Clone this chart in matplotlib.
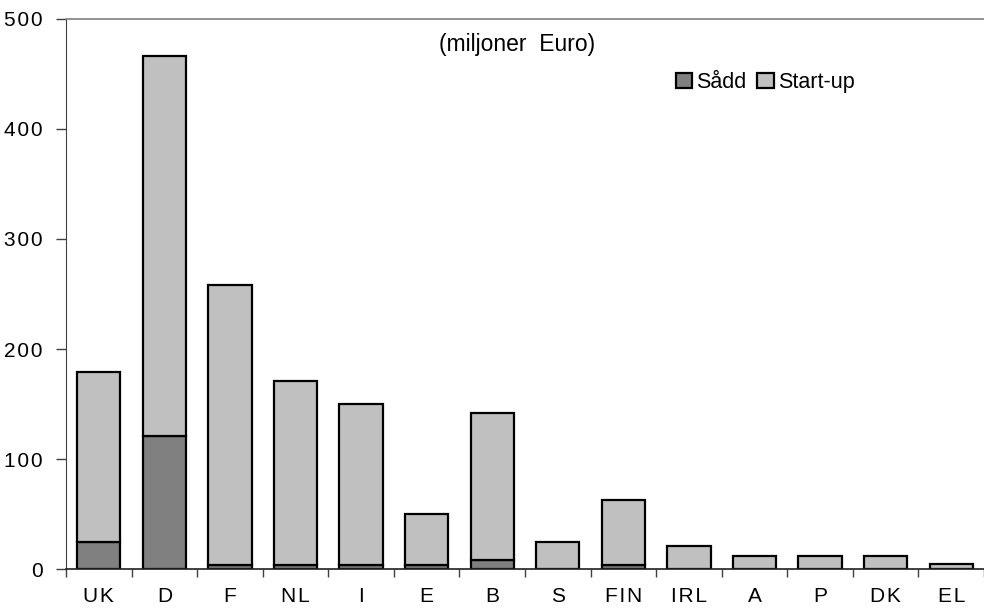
import matplotlib.pyplot as plt
import numpy as np

# Riskkapital per land, miljoner Euro
countries = ['UK', 'D', 'F', 'NL', 'I', 'E', 'B', 'S', 'FIN', 'IRL', 'A', 'P', 'DK', 'EL']
sadd = [25, 121, 4, 4, 4, 4, 8.5, 0, 4, 0, 0, 0, 0, 0]
total = [179, 466, 258, 171, 150, 50, 142, 25, 62.5, 21, 12.5, 12.5, 12.5, 4.5]
startup = [t - s for t, s in zip(total, sadd)]

plt.rcParams['font.family'] = ['Liberation Sans', 'DejaVu Sans']

def spaced(s):
    return '\u200a'.join(s)

fig = plt.figure(figsize=(9.84, 6.16), dpi=100)
ax = fig.add_axes([0.0671, 0.0758, 0.9329, 0.894])

x = np.arange(len(countries))
w = 0.66
ax.bar(x, sadd, w, color='#808080', edgecolor='black', linewidth=1.6, label='Sådd')
ax.bar(x, startup, w, bottom=sadd, color='#c0c0c0', edgecolor='black', linewidth=1.6,
       label='Start-up')

ax.set_xlim(-0.5, len(countries) - 0.5)
ax.set_ylim(0, 500)
ax.set_yticks(range(0, 501, 100))
ax.set_yticklabels([spaced(str(v)) for v in range(0, 501, 100)], fontsize=15)

# category ticks sit between bars, labels centred under bars
ax.set_xticks(np.arange(-0.5, len(countries), 1.0))
ax.set_xticklabels([])
ax.set_xticks(x, minor=True)
ax.set_xticklabels([spaced(c) for c in countries], minor=True, fontsize=15)
ax.tick_params(axis='x', which='minor', length=0, pad=13)
ax.tick_params(axis='x', which='major', length=6, width=1, color='#404040', direction='out')
ax.tick_params(axis='y', length=7, width=1, color='#404040', pad=10)

ax.spines['right'].set_visible(False)
ax.spines['top'].set_color('#808080')
ax.spines['top'].set_linewidth(1.2)
ax.spines['left'].set_color('#404040')
ax.spines['bottom'].set_color('#202020')
ax.spines['bottom'].set_linewidth(1.2)

fig.text(0.525, 1 - 45 / 616, '(miljoner  Euro)', ha='center', va='center', fontsize=16.5)

ax.legend(loc='center left', bbox_to_anchor=(0.655, 0.884), frameon=False, ncol=2,
          fontsize=15.5, handlelength=0.75, handleheight=0.75, handletextpad=0.2,
          columnspacing=0.5, borderaxespad=0)

fig.savefig('out.png', dpi=100)
